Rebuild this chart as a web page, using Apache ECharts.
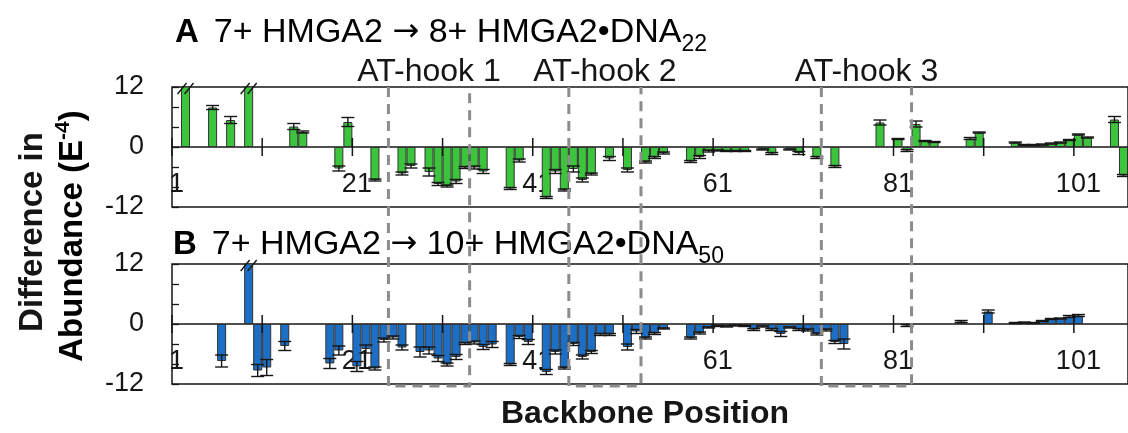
<!DOCTYPE html>
<html><head><meta charset="utf-8">
<script src="https://cdn.jsdelivr.net/npm/echarts/dist/echarts.min.js"></script>
<style>html,body{margin:0;padding:0;background:#fff}#c{width:1128px;height:433px}</style>
</head><body><div id="c"></div>
<script>
// ---------------- data ----------------
const categories = Array.from({length: 106}, (_, i) => String(i + 1));
const tickPositions = [1, 11, 21, 31, 41, 51, 61, 71, 81, 91, 101];
const labelPositions = [1, 21, 41, 61, 81, 101];
const yTickLabels = [-12, 0, 12];

// Panel A: 7+ HMGA2 -> 8+ HMGA2•DNA22
const posA = [2,5,7,9,14,15,19,20,23,26,27,29,30,31,32,33,34,35,38,39,42,43,44,45,46,47,49,51,53,54,55,58,59,60,61,62,63,64,66,67,69,70,72,74,79,81,82,83,84,85,89,90,94,95,96,97,98,99,100,101,102,105,106];
const valA = [15,7.9,5.4,15,4.1,3.0,-4.3,5.0,-6.6,-5.3,-3.8,-5.0,-7.4,-7.8,-6.9,-4.1,-4.1,-4.9,-8.3,-2.7,-10.1,-4.9,-8.6,-4.4,-6.6,-5.4,-2.3,-4.6,-3.0,-2.1,-1.2,-2.9,-2.0,-0.8,-0.7,-0.8,-0.8,-0.8,-0.5,-1.3,-0.5,-1.2,-2.1,-3.9,4.9,1.6,-0.7,4.6,1.2,1.0,1.7,2.9,0.9,0.4,0.4,0.5,0.7,0.9,1.4,2.5,1.9,5.5,-5.7];
const errA = [0,0.4,0.7,0,0.6,0.2,0.5,0.9,0.2,0.3,0.4,0.8,0.3,0.2,0.4,0.2,0.3,0.4,0.2,0.3,0.2,0.4,0.2,0.6,0.4,0.2,0.4,0.4,0.2,0.2,0.2,0.2,0.3,0.2,0.1,0.1,0.1,0.1,0.1,0.2,0.1,0.3,0.2,0.2,0.5,0.1,0.2,0.6,0.1,0.1,0.2,0.1,0.1,0.1,0.1,0.1,0.1,0.1,0.1,0.1,0.1,0.6,0.2];
const breaksA = [2, 9];

// Panel B: 7+ HMGA2 -> 10+ HMGA2•DNA50
const posB = [6,9,10,11,13,18,19,21,22,23,24,25,26,28,29,30,31,32,33,34,35,36,38,39,40,42,43,44,45,46,47,48,49,51,52,53,54,55,58,59,60,61,62,63,64,65,66,67,68,69,70,71,72,73,74,75,82,88,91,94,95,96,97,98,99,100,101];
const valB = [-7.4,15,-9.3,-8.7,-4.4,-7.9,-5.3,-8.5,-5.0,-8.9,-3.2,-2.7,-4.7,-5.6,-5.3,-6.9,-8.1,-6.6,-3.9,-3.7,-4.6,-4.1,-8.1,-2.6,-3.6,-9.6,-5.6,-8.8,-4.0,-6.6,-5.6,-2.1,-2.1,-4.6,-1.5,-2.8,-1.9,-0.9,-2.8,-1.8,-0.7,-0.4,-0.5,-0.3,-0.4,-1.1,-0.5,-1.1,-2.0,-0.7,-1.1,-1.2,-2.0,-1.2,-3.6,-4.0,-0.3,0.5,2.5,0.2,0.3,0.2,0.6,1.0,1.1,1.5,1.7];
const errB = [1.2,0,1.2,1.6,0.9,1.0,0.9,1.0,0.8,0.3,0.4,0.3,0.5,1.0,0.7,0.6,0.3,0.5,0.2,0.3,0.5,0.6,0.2,0.3,0.5,0.5,0.4,0.2,0.3,0.4,0.3,0.2,0.2,0.6,0.4,0.2,0.2,0.1,0.2,0.2,0.1,0.1,0.1,0.1,0.1,0.2,0.1,0.2,0.5,0.1,0.2,0.2,0.2,0.2,0.3,1.0,0.2,0.2,0.3,0.1,0.1,0.1,0.1,0.1,0.1,0.2,0.2];
const breaksB = [9];

// AT-hook regions
const hookLabels = ['AT-hook 1', 'AT-hook 2', 'AT-hook 3'];
const hookStart = [25, 45, 73];
const hookEnd = [33, 52, 82];

// ---------------- helpers ----------------
const FONT = '"Liberation Sans", Arial, Helvetica, sans-serif';
const INK = '#161616';

function barData(pos, val) {
  const d = categories.map(() => null);
  pos.forEach((p, i) => { d[p - 1] = val[i]; });
  return d;
}
function errData(pos, val, err) {
  return pos.map((p, i) => [p - 1, val[i], err[i]]).filter(d => d[2] > 0);
}
function renderErr(params, api) {
  const x = api.value(0), v = api.value(1), e = api.value(2);
  const top = api.coord([x, v + e]);
  const bot = api.coord([x, v - e]);
  const hw = 6.5;
  const st = {stroke: INK, lineWidth: 1.4};
  return {type: 'group', children: [
    {type: 'line', shape: {x1: top[0], y1: top[1], x2: bot[0], y2: bot[1]}, style: st},
    {type: 'line', shape: {x1: top[0] - hw, y1: top[1], x2: top[0] + hw, y2: top[1]}, style: st},
    {type: 'line', shape: {x1: bot[0] - hw, y1: bot[1], x2: bot[0] + hw, y2: bot[1]}, style: st}
  ]};
}
function renderTick(params, api) {
  const c = api.coord([api.value(0), 0]);
  const bw = api.size([1, 0])[0];
  const x = c[0] - bw / 2;
  return {type: 'line', shape: {x1: x, y1: c[1] - 9, x2: x, y2: c[1] + 9}, style: {stroke: INK, lineWidth: 1.5}};
}
function renderLabel(params, api) {
  const c = api.coord([api.value(0), 0]);
  return {type: 'text', x: c[0], y: c[1] + 38,
    style: {text: categories[api.value(0)], fontSize: 27, fontFamily: FONT, fill: INK, align: 'center', verticalAlign: 'middle'}};
}
function renderBreak(params, api) {
  const c = api.coord([api.value(0), 12]);
  const st = {stroke: INK, lineWidth: 1.4};
  return {type: 'group', children: [-3.5, 3.5].map(dx => ({
    type: 'line', shape: {x1: c[0] + dx - 4.5, y1: c[1] + 7, x2: c[0] + dx + 4.5, y2: c[1] - 4}, style: st
  }))};
}
function renderHook(params, api) {
  const a = api.coord([api.value(0), 1]);
  const b = api.coord([api.value(1), 0]);
  const bw = api.size([1, 0])[0];
  const xl = a[0] - bw / 2, xr = b[0] + bw / 2, yt = a[1], yb = b[1];
  return {type: 'group', children: [
    {type: 'polyline', shape: {points: [[xl, yt], [xl, yb], [xr, yb], [xr, yt]]},
     style: {stroke: '#8c8c8c', lineWidth: 3, lineDash: [10, 7], fill: null}},
    {type: 'text', x: (xl + xr) / 2, y: yt - 15,
     style: {text: hookLabels[api.value(2)], fontSize: 32, fontFamily: FONT, fill: INK, align: 'center', verticalAlign: 'middle'}}
  ]};
}

const gridBase = {left: 172, width: 957, height: 120, show: true, borderColor: INK, borderWidth: 1.5, backgroundColor: 'transparent'};

function xAx(gi) {
  return {
    gridIndex: gi, type: 'category', data: categories, boundaryGap: true,
    axisLine: {onZero: true, lineStyle: {color: INK, width: 1.5}},
    axisTick: {show: false},
    axisLabel: {show: false},
    splitLine: {show: false}
  };
}
function yAx(gi) {
  return {
    gridIndex: gi, type: 'value', min: -12, max: 12, interval: 4,
    axisLine: {show: false},
    axisTick: {show: true, inside: true, length: 7, lineStyle: {color: INK, width: 1.3}},
    axisLabel: {margin: 28, fontSize: 27, fontFamily: FONT, color: INK,
      formatter: v => yTickLabels.indexOf(v) >= 0 ? String(v) : ''},
    splitLine: {show: false}
  };
}
function panelSeries(gi, pos, val, err, breaks, color) {
  return [
    {type: 'custom', xAxisIndex: gi, yAxisIndex: gi, data: labelPositions.map(p => [p - 1, 0]), renderItem: renderLabel, z: 1},
    {type: 'bar', xAxisIndex: gi, yAxisIndex: gi, data: barData(pos, val), barWidth: '100%',
     itemStyle: {color: color, borderColor: '#333', borderWidth: 1}, z: 2},
    {type: 'custom', xAxisIndex: gi, yAxisIndex: gi, data: errData(pos, val, err), renderItem: renderErr, z: 3},
    {type: 'custom', xAxisIndex: gi, yAxisIndex: gi, data: tickPositions.map(p => [p - 1, 0]), renderItem: renderTick, z: 4},
    {type: 'custom', xAxisIndex: gi, yAxisIndex: gi, data: breaks.map(p => [p - 1, 12]), renderItem: renderBreak, z: 5}
  ];
}
function titleRich() {
  return {
    b: {fontSize: 33, fontWeight: 'bold', fontFamily: FONT, color: INK, lineHeight: 46, verticalAlign: 'middle', padding: [0, 15, 0, 0]},
    n: {fontSize: 34, fontFamily: FONT, color: INK, lineHeight: 46, verticalAlign: 'middle'},
    a: {fontSize: 32, fontFamily: '"DejaVu Sans", sans-serif', color: INK, lineHeight: 46, verticalAlign: 'middle'},
    s: {fontSize: 23, fontFamily: FONT, color: INK, lineHeight: 23, verticalAlign: 'bottom'}
  };
}

const chart = echarts.init(document.getElementById('c'), null, {renderer: 'canvas'});
chart.setOption({
  animation: false,
  backgroundColor: '#fff',
  grid: [
    Object.assign({top: 87}, gridBase),
    Object.assign({top: 264}, gridBase),
    {left: 172, width: 957, top: 87, height: 299, show: false}
  ],
  xAxis: [xAx(0), xAx(1), {gridIndex: 2, type: 'category', data: categories, show: false}],
  yAxis: [yAx(0), yAx(1), {gridIndex: 2, type: 'value', min: 0, max: 1, show: false}],
  series: [
    ...panelSeries(0, posA, valA, errA, breaksA, '#3cc43c'),
    ...panelSeries(1, posB, valB, errB, breaksB, '#1c6fc4'),
    {type: 'custom', xAxisIndex: 2, yAxisIndex: 2, z: 10,
     data: hookStart.map((s, i) => [s - 1, hookEnd[i] - 1, i]), renderItem: renderHook}
  ],
  graphic: [
    {type: 'text', x: 175, y: 10, style: {
      text: '{b|A}{n|7+ HMGA2 }{a|→}{n| 8+ HMGA2•DNA}{s|22}', rich: titleRich()}},
    {type: 'text', x: 173, y: 222, style: {
      text: '{b|B}{n|7+ HMGA2 }{a|→}{n| 10+ HMGA2•DNA}{s|50}', rich: titleRich()}},
    {type: 'text', x: 33, y: 232, rotation: Math.PI / 2, style: {
      text: 'Difference in', fontSize: 33, fontWeight: 'bold', fontFamily: FONT, fill: INK,
      align: 'center', verticalAlign: 'middle'}},
    {type: 'text', x: 73, y: 236, rotation: Math.PI / 2, style: {
      text: '{m|Abundance (E}{p|-4}{m|)}', align: 'center', verticalAlign: 'middle',
      rich: {
        m: {fontSize: 33, fontWeight: 'bold', fontFamily: FONT, color: INK, lineHeight: 40, verticalAlign: 'middle'},
        p: {fontSize: 21, fontWeight: 'bold', fontFamily: FONT, color: INK, lineHeight: 22, verticalAlign: 'top'}
      }}},
    {type: 'text', x: 645, y: 414, style: {
      text: 'Backbone Position', fontSize: 32, fontWeight: 'bold', fontFamily: FONT, fill: INK,
      align: 'center', verticalAlign: 'middle'}}
  ]
});
</script>
</body></html>
